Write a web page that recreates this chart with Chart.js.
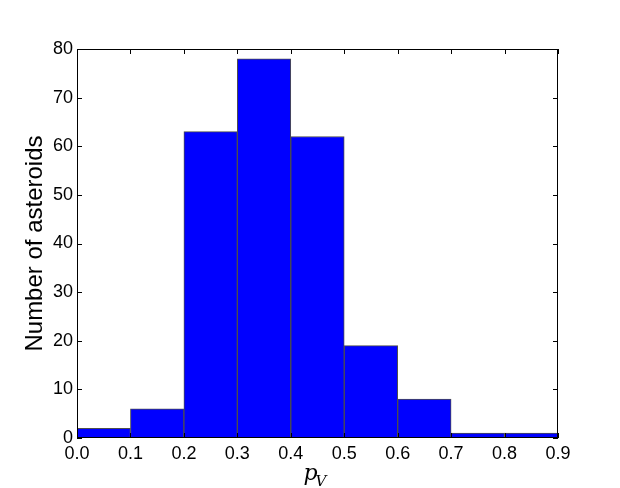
<!DOCTYPE html>
<html>
<head>
<meta charset="utf-8">
<script src="https://cdn.jsdelivr.net/npm/chart.js@4"></script>
<style>
  body { margin: 0; background: #fff; }
  #wrap { width: 620px; height: 488px; }
</style>
</head>
<body>
<div id="wrap"><canvas id="myChart" width="620" height="488"></canvas></div>
<script>
// histogram of asteroid albedos, bin edges every 0.1
const binStarts = [0.0, 0.1, 0.2, 0.3, 0.4, 0.5, 0.6, 0.7, 0.8];
const counts = [2, 6, 63, 78, 62, 19, 8, 1, 1];
const binWidth = 0.1;
const yTitle = 'Number of asteroids';

const ctx = document.getElementById('myChart');

var points = [];
for (let i = 0; i < binStarts.length; i++) {
  points.push({ x: binStarts[i] + binWidth / 2, y: counts[i] });
}

// frame, inward ticks and axis titles, drawn like matplotlib does
const frameTicks = {
  id: 'frameTicks',
  afterDraw(chart) {
    const c = chart.ctx;
    const a = chart.chartArea;
    const xs = chart.scales.x, ys = chart.scales.y;
    c.save();
    c.strokeStyle = '#000';
    c.lineWidth = 1;
    c.strokeRect(Math.round(a.left) + 0.5, Math.round(a.top) + 0.5,
      Math.round(a.right - a.left) - 1, Math.round(a.bottom - a.top) - 1);
    const len = 5;
    c.beginPath();
    xs.ticks.forEach(t => {
      const px = Math.round(xs.getPixelForValue(t.value)) + 0.5;
      c.moveTo(px, a.bottom); c.lineTo(px, a.bottom - len);
      c.moveTo(px, a.top); c.lineTo(px, a.top + len);
    });
    ys.ticks.forEach(t => {
      const py = Math.round(ys.getPixelForValue(t.value)) + 0.5;
      c.moveTo(a.left, py); c.lineTo(a.left + len, py);
      c.moveTo(a.right, py); c.lineTo(a.right - len, py);
    });
    c.stroke();

    // y title
    c.fillStyle = '#000';
    c.font = '24px "Liberation Sans", Arial, sans-serif';
    c.textAlign = 'center';
    c.textBaseline = 'middle';
    c.translate(35, (a.top + a.bottom) / 2);
    c.rotate(-Math.PI / 2);
    c.fillText(yTitle, 0, 0);
    c.setTransform(1, 0, 0, 1, 0, 0);

    // x title p_V
    const cx = (a.left + a.right) / 2;
    c.textAlign = 'left';
    c.textBaseline = 'alphabetic';
    c.font = 'italic 22px "DejaVu Serif", serif';
    c.fillText('p', cx - 14, 480);
    c.font = 'italic 15px "DejaVu Serif", serif';
    c.fillText('V', cx - 2, 486);
    c.restore();
  }
};

let myChart = new Chart(ctx, {
  type: 'bar',
  data: {
    datasets: [{
      data: points,
      backgroundColor: '#0000ff',
      borderColor: '#4d4d4d',
      borderWidth: 1,
      borderSkipped: false,
      barPercentage: 1,
      categoryPercentage: 1
    }]
  },
  options: {
    responsive: false,
    animation: false,
    layout: { padding: { top: 49, right: 62, left: 0, bottom: 0 } },
    plugins: { legend: { display: false }, tooltip: { enabled: false } },
    scales: {
      x: {
        type: 'linear',
        offset: false,
        min: 0,
        max: 0.9,
        grid: { display: false, drawTicks: false, tickLength: 0 },
        border: { display: false },
        afterFit: s => { s.height = 50; },
        ticks: {
          stepSize: 0.1,
          padding: 5,
          color: '#000',
          maxRotation: 0,
          font: { family: '"Liberation Sans", Arial, sans-serif', size: 18 },
          callback: v => Number(v).toFixed(1)
        }
      },
      y: {
        min: 0,
        max: 80,
        grid: { display: false, drawTicks: false, tickLength: 0 },
        border: { display: false },
        afterFit: s => { s.width = 77; },
        ticks: {
          stepSize: 10,
          padding: 4,
          color: '#000',
          font: { family: '"Liberation Sans", Arial, sans-serif', size: 18 }
        }
      }
    }
  },
  plugins: [frameTicks]
});
</script>
</body>
</html>
